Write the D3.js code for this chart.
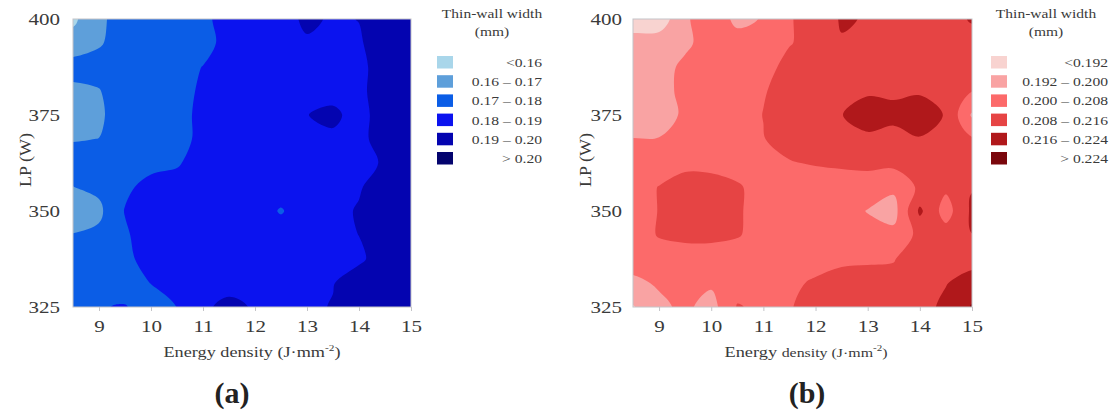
<!DOCTYPE html>
<html><head><meta charset="utf-8">
<script src="https://cdn.jsdelivr.net/npm/d3@7"></script>
<style>body{margin:0;background:#fff;} svg{display:block;}</style>
</head><body>
<svg id="chart" width="1112" height="410"></svg>
<script>
// ---------------- DATA ----------------
const energyDensity = [8.5, 9, 9.5, 10, 10.5, 11, 11.5, 12, 12.5, 13, 13.5, 14, 14.5, 15];
const laserPower = [400, 393.75, 387.5, 381.25, 375, 368.75, 362.5, 356.25, 350, 343.75, 337.5, 331.25, 325];
const xTickValues = [9, 10, 11, 12, 13, 14, 15];
const yTickValues = [325, 350, 375, 400];

// (a) thin-wall width, rows from LP=400 down to LP=325
const widthA = [
  [0.158, 0.168, 0.1745, 0.175, 0.176, 0.177, 0.1855, 0.186, 0.186, 0.192, 0.1888, 0.1902, 0.195, 0.196],
  [0.164, 0.169, 0.1745, 0.175, 0.176, 0.177, 0.183, 0.185, 0.186, 0.1888, 0.187, 0.189, 0.195, 0.196],
  [0.1743, 0.1738, 0.175, 0.176, 0.177, 0.1802, 0.184, 0.185, 0.185, 0.186, 0.187, 0.188, 0.1937, 0.196],
  [0.1674, 0.1695, 0.176, 0.176, 0.177, 0.1813, 0.184, 0.185, 0.186, 0.187, 0.186, 0.188, 0.1945, 0.197],
  [0.164, 0.168, 0.1767, 0.177, 0.177, 0.1822, 0.184, 0.185, 0.186, 0.1898, 0.1925, 0.1854, 0.1964, 0.197],
  [0.1695, 0.1701, 0.176, 0.177, 0.177, 0.1822, 0.1835, 0.185, 0.186, 0.187, 0.1879, 0.188, 0.1933, 0.197],
  [0.1735, 0.174, 0.175, 0.177, 0.179, 0.1845, 0.184, 0.185, 0.186, 0.187, 0.187, 0.188, 0.1907, 0.197],
  [0.1699, 0.172, 0.178, 0.1833, 0.1838, 0.185, 0.186, 0.186, 0.186, 0.187, 0.187, 0.189, 0.1957, 0.198],
  [0.165, 0.168, 0.1805, 0.184, 0.185, 0.185, 0.186, 0.186, 0.179, 0.187, 0.187, 0.1909, 0.196, 0.198],
  [0.1704, 0.172, 0.1785, 0.186, 0.186, 0.186, 0.186, 0.186, 0.186, 0.187, 0.187, 0.1901, 0.195, 0.198],
  [0.172, 0.174, 0.176, 0.1865, 0.186, 0.186, 0.186, 0.186, 0.186, 0.187, 0.187, 0.188, 0.1954, 0.198],
  [0.173, 0.175, 0.176, 0.1802, 0.183, 0.186, 0.187, 0.187, 0.187, 0.188, 0.1895, 0.196, 0.197, 0.199],
  [0.174, 0.1796, 0.1805, 0.176, 0.1801, 0.1886, 0.1922, 0.1892, 0.187, 0.188, 0.1906, 0.196, 0.197, 0.198]
];
const thresholdsA = [0.16, 0.17, 0.18, 0.19, 0.20];
const legendLabelsA = ["<0.16", "0.16 \u2013 0.17", "0.17 \u2013 0.18", "0.18 \u2013 0.19", "0.19 \u2013 0.20", "> 0.20"];

// (b) thin-wall width, rows from LP=400 down to LP=325
const widthB = [
  [0.188, 0.1866, 0.1995, 0.2021, 0.1992, 0.2002, 0.2075, 0.2108, 0.2168, 0.2155, 0.213, 0.212, 0.212, 0.217],
  [0.1949, 0.1966, 0.198, 0.2045, 0.2013, 0.204, 0.2075, 0.211, 0.2154, 0.213, 0.212, 0.212, 0.212, 0.212],
  [0.195, 0.196, 0.2022, 0.203, 0.204, 0.205, 0.2106, 0.212, 0.213, 0.213, 0.213, 0.213, 0.212, 0.211],
  [0.195, 0.196, 0.2029, 0.203, 0.204, 0.2075, 0.2108, 0.212, 0.213, 0.215, 0.2148, 0.215, 0.213, 0.2082],
  [0.195, 0.196, 0.2015, 0.203, 0.204, 0.2082, 0.211, 0.213, 0.2158, 0.2195, 0.218, 0.2205, 0.2154, 0.199],
  [0.2002, 0.2003, 0.203, 0.204, 0.205, 0.2076, 0.2126, 0.213, 0.213, 0.2145, 0.2135, 0.2155, 0.213, 0.2088],
  [0.202, 0.203, 0.206, 0.2055, 0.205, 0.205, 0.2072, 0.209, 0.2095, 0.21, 0.21, 0.212, 0.212, 0.211],
  [0.204, 0.2083, 0.2113, 0.2113, 0.2088, 0.2053, 0.205, 0.201, 0.2035, 0.204, 0.2015, 0.2095, 0.2095, 0.2155],
  [0.204, 0.2083, 0.212, 0.212, 0.2088, 0.2053, 0.205, 0.204, 0.203, 0.1997, 0.197, 0.2175, 0.2045, 0.2175],
  [0.2045, 0.2085, 0.2115, 0.2115, 0.2085, 0.2055, 0.205, 0.204, 0.203, 0.2025, 0.2022, 0.2101, 0.2115, 0.2159],
  [0.203, 0.2045, 0.2009, 0.2009, 0.2045, 0.205, 0.206, 0.204, 0.206, 0.2068, 0.2075, 0.2138, 0.212, 0.212],
  [0.1985, 0.2008, 0.202, 0.2012, 0.205, 0.2055, 0.206, 0.2093, 0.212, 0.2116, 0.211, 0.212, 0.2155, 0.2207],
  [0.1915, 0.1985, 0.2015, 0.197, 0.2085, 0.2065, 0.2072, 0.2125, 0.213, 0.213, 0.212, 0.212, 0.2185, 0.2245]
];
const thresholdsB = [0.192, 0.200, 0.208, 0.216, 0.224];
const legendLabelsB = ["<0.192", "0.192 \u2013 0.200", "0.200 \u2013 0.208", "0.208 \u2013 0.216", "0.216 \u2013 0.224", "> 0.224"];

const legendTitle = ["Thin-wall width", "(mm)"];
const xTitle = "Energy density (J\u00b7mm";
const yTitle = "LP (W)";

// ---------------- STYLE ----------------
const coloursA = ["#a9d6ea", "#5e9fda", "#0b5de6", "#0b13ef", "#0404b0", "#04046e"];
const coloursB = ["#f8d3d0", "#f9a3a3", "#fc6a6a", "#e64444", "#b0181b", "#7a070c"];
const FONT = '"Liberation Serif", "Times New Roman", serif';
const TXT = "#3a3a3a";

const svg = d3.select("#chart");

function stretchText(g, x, y, s, size, anchor, sx, opts = {}) {
  return g.append("text")
    .attr("transform", `translate(${x},${y}) scale(${sx},1)`)
    .attr("text-anchor", anchor)
    .style("font-family", FONT)
    .style("font-size", size + "px")
    .style("font-weight", opts.weight || "normal")
    .attr("fill", opts.fill || TXT)
    .text(s);
}

// pad grid by repeating edge values so contours meet the frame squarely
function padGrid(grid) {
  const m = grid.length, n = grid[0].length;
  const out = [];
  for (let j = -1; j <= m; j++) {
    const r = grid[Math.max(0, Math.min(m - 1, j))];
    const row = [];
    for (let i = -1; i <= n; i++) row.push(r[Math.max(0, Math.min(n - 1, i))]);
    out.push(row);
  }
  return out;
}

function drawPanel(cfg) {
  const g = svg.append("g");
  const xs = d3.scaleLinear().domain([8.5, 15]).range([cfg.left, cfg.right]);
  const ys = d3.scaleLinear().domain([325, 400]).range([cfg.bottom, cfg.top]);
  const n = energyDensity.length + 2, m = laserPower.length + 2;
  const dx = energyDensity[1] - energyDensity[0];
  const dy = laserPower[1] - laserPower[0];
  const px = c => xs(energyDensity[0] + (c - 1.5) * dx);
  const py = c => ys(laserPower[0] + (c - 1.5) * dy);

  const clipId = "clip" + cfg.id;
  g.append("clipPath").attr("id", clipId).append("rect")
    .attr("x", cfg.left).attr("y", cfg.top)
    .attr("width", cfg.right - cfg.left).attr("height", cfg.bottom - cfg.top);

  const plot = g.append("g").attr("clip-path", `url(#${clipId})`);
  plot.append("rect")
    .attr("x", cfg.left).attr("y", cfg.top)
    .attr("width", cfg.right - cfg.left).attr("height", cfg.bottom - cfg.top)
    .attr("fill", cfg.colours[0]);

  const contours = d3.contours().size([n, m]).thresholds(cfg.thresholds)(padGrid(cfg.grid).flat());
  const line = d3.line().x(p => px(p[0])).y(p => py(p[1])).curve(d3.curveCatmullRomClosed.alpha(0.5));
  contours.forEach((c, i) => {
    const d = c.coordinates.map(poly => poly.map(ring => line(ring.slice(0, -1))).join("")).join("");
    plot.append("path").attr("d", d).attr("fill", cfg.colours[i + 1]).attr("fill-rule", "evenodd");
  });

  // frame
  g.append("rect")
    .attr("x", cfg.left).attr("y", cfg.top)
    .attr("width", cfg.right - cfg.left).attr("height", cfg.bottom - cfg.top)
    .attr("fill", "none").attr("stroke", "#c4c4c8").attr("stroke-width", 1);

  // axes
  const xa = g.append("g").attr("transform", `translate(0,${cfg.bottom})`)
    .call(d3.axisBottom(xs).tickValues(xTickValues).tickFormat(d3.format("d")).tickSize(4).tickSizeOuter(0));
  xa.select(".domain").remove();
  xa.selectAll("line").attr("stroke", "#c4c4c8");
  xa.selectAll("text").attr("y", 25).attr("dy", 0)
    .attr("transform", "scale(1.2,1)")
    .style("font-family", FONT).style("font-size", "17.5px").attr("fill", TXT);

  const ya = g.append("g").attr("transform", `translate(${cfg.left},0)`)
    .call(d3.axisLeft(ys).tickValues(yTickValues).tickFormat(d3.format("d")).tickSize(0).tickSizeOuter(0));
  ya.select(".domain").remove();
  ya.selectAll("text").attr("x", -cfg.yLabelGap / 1.2).attr("dy", "0.32em")
    .attr("transform", "scale(1.2,1)")
    .style("font-family", FONT).style("font-size", "17.5px").attr("fill", TXT);

  // axis titles
  const xt = g.append("text")
    .attr("x", cfg.xTitleX).attr("y", 357)
    .attr("text-anchor", "middle")
    .attr("textLength", cfg.xTitleLen).attr("lengthAdjust", "spacingAndGlyphs")
    .style("font-family", FONT).attr("fill", TXT);
  if (cfg.mixedTitle) {
    xt.append("tspan").style("font-size", "15px").text("Energy ");
    xt.append("tspan").style("font-size", "13px").text("density (J\u00b7mm");
  } else {
    xt.append("tspan").style("font-size", "14.5px").text(xTitle);
  }
  xt.append("tspan").attr("dy", -6).style("font-size", "9px").text("-2");
  xt.append("tspan").attr("dy", 6).style("font-size", cfg.mixedTitle ? "13px" : "14.5px").text(")");

  g.append("text")
    .attr("transform", `translate(${cfg.yTitleX},160) rotate(-90)`)
    .attr("text-anchor", "middle").attr("dy", "0.35em")
    .attr("textLength", 54).attr("lengthAdjust", "spacingAndGlyphs")
    .style("font-family", FONT).style("font-size", "16px").attr("fill", TXT)
    .text(yTitle);

  // panel label
  stretchText(g, cfg.labelX, 403, cfg.label, 30, "middle", 1.0, {weight: "bold", fill: "#222"});

  // legend
  stretchText(g, cfg.legTitleX, 17.5, legendTitle[0], 12.5, "middle", 1.24);
  stretchText(g, cfg.legTitleX, 36, legendTitle[1], 12.5, "middle", 1.24);
  cfg.legendLabels.forEach((lab, i) => {
    const y0 = 56 + i * 19.2;
    g.append("rect").attr("x", cfg.swatchX).attr("y", y0).attr("width", 16).attr("height", 12.5)
      .attr("fill", cfg.colours[i]);
    stretchText(g, cfg.legLabelRight, y0 + 11, lab, 13, "end", 1.2);
  });
}

drawPanel({
  id: "a", left: 73, right: 411, top: 19, bottom: 307,
  grid: widthA, thresholds: thresholdsA, colours: coloursA,
  legendLabels: legendLabelsA, yLabelGap: 13, xTitleX: 252, xTitleLen: 177, mixedTitle: false,
  yTitleX: 25, label: "(a)", labelX: 232,
  legTitleX: 492, swatchX: 437, legLabelRight: 542
});
drawPanel({
  id: "b", left: 633, right: 972, top: 19, bottom: 307,
  grid: widthB, thresholds: thresholdsB, colours: coloursB,
  legendLabels: legendLabelsB, yLabelGap: 11, xTitleX: 806, xTitleLen: 163, mixedTitle: true,
  yTitleX: 585, label: "(b)", labelX: 807,
  legTitleX: 1046, swatchX: 991, legLabelRight: 1108
});
</script>
</body></html>
